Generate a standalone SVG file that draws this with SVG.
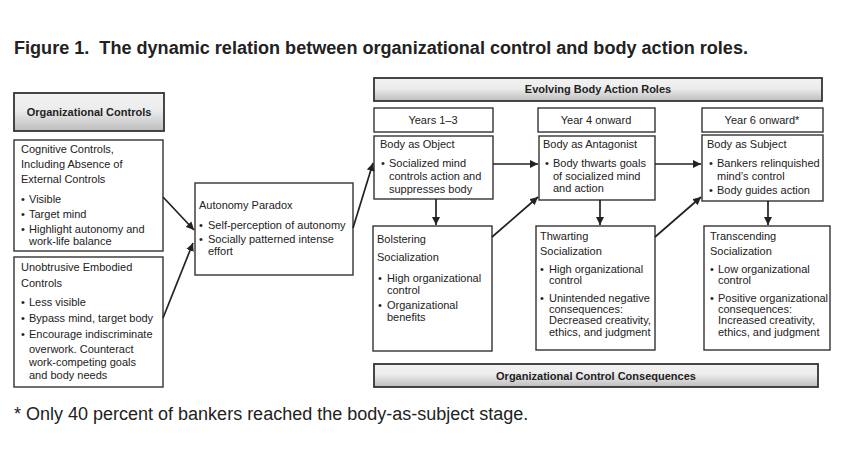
<svg xmlns="http://www.w3.org/2000/svg" width="865" height="456" viewBox="0 0 865 456">
<defs>
<linearGradient id="hdr" x1="0" y1="0" x2="0" y2="1">
<stop offset="0" stop-color="#f2f2f2"/>
<stop offset="0.45" stop-color="#ececec"/>
<stop offset="1" stop-color="#bdbdbd"/>
</linearGradient>
<marker id="ah" markerUnits="userSpaceOnUse" markerWidth="9" markerHeight="8" refX="8" refY="4" orient="auto">
<path d="M0,0 L8,4 L0,8 z" fill="#222"/>
</marker>
<style>
text{font-family:"Liberation Sans",Arial,Helvetica,sans-serif;fill:#222;font-size:11px}
.b{font-weight:bold}
.c{text-anchor:middle}
.box{fill:#fff;stroke:#333;stroke-width:1.4}
.hbox{fill:url(#hdr);stroke:#333;stroke-width:1.8}
.con{stroke:#222;stroke-width:1.7;fill:none;marker-end:url(#ah)}
</style>
</defs>
<rect width="865" height="456" fill="#fff"/>
<text x="14" y="54" class="b" style="font-size:18px" textLength="734" lengthAdjust="spacingAndGlyphs">Figure 1.&#160; The dynamic relation between organizational control and body action roles.</text>

<g id="org-controls-header">
<rect class="hbox" x="14" y="93" width="150" height="38"/>
<text x="89" y="116" class="b c">Organizational Controls</text>
</g>
<g id="cognitive-controls">
<rect class="box" x="14" y="140" width="149" height="111"/>
<text x="21" y="153">Cognitive Controls,</text>
<text x="21" y="168">Including Absence of</text>
<text x="21" y="183">External Controls</text>
<text x="21" y="203">•</text><text x="29" y="203">Visible</text>
<text x="21" y="218">•</text><text x="29" y="218">Target mind</text>
<text x="21" y="233">•</text><text x="29" y="233">Highlight autonomy and</text>
<text x="29" y="245">work-life balance</text>
</g>
<g id="unobtrusive-controls">
<rect class="box" x="14" y="257" width="149" height="130"/>
<text x="21" y="271">Unobtrusive Embodied</text>
<text x="21" y="287">Controls</text>
<text x="21" y="306">•</text><text x="29" y="306">Less visible</text>
<text x="21" y="322">•</text><text x="29" y="322">Bypass mind, target body</text>
<text x="21" y="338">•</text><text x="29" y="338">Encourage indiscriminate</text>
<text x="29" y="353">overwork. Counteract</text>
<text x="29" y="366">work-competing goals</text>
<text x="29" y="379">and body needs</text>
</g>
<g id="autonomy-paradox">
<rect class="box" x="195" y="183" width="158" height="92"/>
<text x="199" y="209">Autonomy Paradox</text>
<text x="199" y="229">•</text><text x="208" y="229">Self-perception of autonomy</text>
<text x="199" y="243">•</text><text x="208" y="243">Socially patterned intense</text>
<text x="208" y="255">effort</text>
</g>
<g id="evolving-header">
<rect class="hbox" x="374" y="78" width="448" height="23"/>
<text x="598" y="93" class="b c">Evolving Body Action Roles</text>
</g>
<g id="years-1-3">
<rect class="box" x="374" y="108" width="119" height="24"/>
<text x="433" y="124" class="c">Years 1–3</text>
</g>
<g id="year-4">
<rect class="box" x="538" y="108" width="117" height="24"/>
<text x="596" y="124" class="c">Year 4 onward</text>
</g>
<g id="year-6">
<rect class="box" x="702" y="108" width="121" height="24"/>
<text x="762" y="124" class="c">Year 6 onward*</text>
</g>
<g id="body-as-object">
<rect class="box" x="374" y="136" width="119" height="63"/>
<text x="380" y="148">Body as Object</text>
<text x="381" y="167">•</text><text x="389" y="167">Socialized mind</text>
<text x="389" y="180">controls action and</text>
<text x="389" y="193">suppresses body</text>
</g>
<g id="body-as-antagonist">
<rect class="box" x="539" y="136" width="116" height="64"/>
<text x="543" y="148">Body as Antagonist</text>
<text x="545" y="167">•</text><text x="553" y="167">Body thwarts goals</text>
<text x="553" y="180">of socialized mind</text>
<text x="553" y="192">and action</text>
</g>
<g id="body-as-subject">
<rect class="box" x="702" y="135" width="121" height="66"/>
<text x="707" y="148">Body as Subject</text>
<text x="709" y="167">•</text><text x="717" y="167">Bankers relinquished</text>
<text x="717" y="180">mind’s control</text>
<text x="709" y="194">•</text><text x="717" y="194">Body guides action</text>
</g>
<g id="bolstering-socialization">
<rect class="box" x="373" y="226" width="119" height="125"/>
<text x="377" y="243">Bolstering</text>
<text x="377" y="261">Socialization</text>
<text x="378" y="282">•</text><text x="387" y="282">High organizational</text>
<text x="387" y="294">control</text>
<text x="378" y="309">•</text><text x="387" y="309">Organizational</text>
<text x="387" y="321">benefits</text>
</g>
<g id="thwarting-socialization">
<rect class="box" x="536" y="226" width="119" height="124"/>
<text x="540" y="240">Thwarting</text>
<text x="540" y="255">Socialization</text>
<text x="540" y="273">•</text><text x="549" y="273">High organizational</text>
<text x="549" y="284">control</text>
<text x="540" y="302">•</text><text x="549" y="302">Unintended negative</text>
<text x="549" y="313">consequences:</text>
<text x="549" y="324">Decreased creativity,</text>
<text x="549" y="336">ethics, and judgment</text>
</g>
<g id="transcending-socialization">
<rect class="box" x="704" y="226" width="126" height="124"/>
<text x="710" y="240">Transcending</text>
<text x="710" y="255">Socialization</text>
<text x="710" y="273">•</text><text x="718" y="273">Low organizational</text>
<text x="718" y="284">control</text>
<text x="710" y="302">•</text><text x="718" y="302">Positive organizational</text>
<text x="718" y="313">consequences:</text>
<text x="718" y="324">Increased creativity,</text>
<text x="718" y="336">ethics, and judgment</text>
</g>
<g id="consequences-header">
<rect class="hbox" x="374" y="364" width="444" height="23"/>
<text x="596" y="380" class="b c">Organizational Control Consequences</text>
</g>

<g id="connectors">
<line class="con" x1="163" y1="197" x2="194" y2="230"/>
<line class="con" x1="163" y1="318" x2="193" y2="243"/>
<line class="con" x1="353" y1="228" x2="373" y2="163"/>
<line class="con" x1="493" y1="164" x2="538" y2="164"/>
<line class="con" x1="436" y1="199" x2="436" y2="225"/>
<line class="con" x1="492" y1="237" x2="538" y2="197"/>
<line class="con" x1="600" y1="200" x2="600" y2="225"/>
<line class="con" x1="655" y1="164" x2="701" y2="164"/>
<line class="con" x1="655" y1="237" x2="701" y2="197"/>
<line class="con" x1="768" y1="201" x2="768" y2="225"/>
</g>

<text x="14" y="420" style="font-size:18px">* Only 40 percent of bankers reached the body-as-subject stage.</text>
</svg>
